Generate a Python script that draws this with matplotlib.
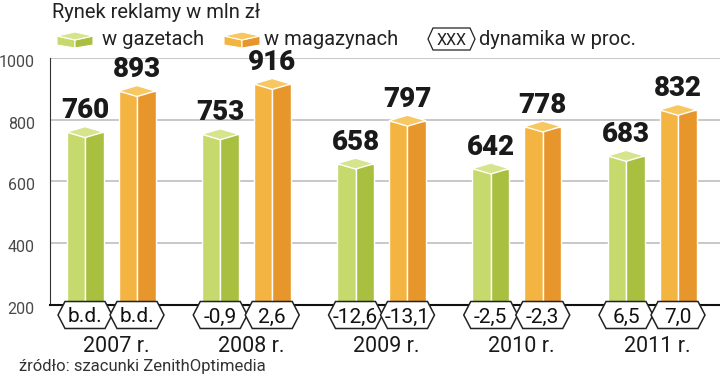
import matplotlib.pyplot as plt
from matplotlib.patches import Polygon
from matplotlib.transforms import ScaledTranslation
import numpy as np

years = ['2007 r.', '2008 r.', '2009 r.', '2010 r.', '2011 r.']
gazety = [760, 753, 658, 642, 683]          # mln zl
magazyny = [893, 916, 797, 778, 832]        # mln zl
dyn_gazety = ['b.d.', '-0,9', '-12,6', '-2,5', '6,5']
dyn_magazyny = ['b.d.', '2,6', '-13,1', '-2,3', '7,0']
yticks = [200, 400, 600, 800, 1000]

plt.rcParams['font.family'] = ['Roboto', 'DejaVu Sans']

W, H = 720, 376
fig = plt.figure(figsize=(W / 100, H / 100), dpi=100)
ax = fig.add_axes([50 / W, 1 - 305 / H, 670 / W, 247 / H])

px_x = 135.25       # pixels per group
py = 247 / 800      # pixels per value unit
ax.set_xlim((50 - 111) / px_x, (720 - 111) / px_x)
ax.set_ylim(200, 1000)

green = ('#c6d96c', '#a9bf3f', '#d7e48e')
orange = ('#f3b441', '#e7962b', '#f7c862')

bw = 37 / px_x
off = 26 / px_x
cap = 5.5 / py
x = np.arange(len(years))


def hexagon(xc, yc, hw, hh, hp):
    return [(xc - hw, yc), (xc - hw + hp, yc + hh), (xc + hw - hp, yc + hh),
            (xc + hw, yc), (xc + hw - hp, yc - hh), (xc - hw + hp, yc - hh)]


def draw_bars(xs, vals, dyn, colors):
    vals = np.array(vals)
    ax.bar(xs - bw / 4, vals - 200, bw / 2, bottom=200, color=colors[0],
           edgecolor='white', linewidth=1, zorder=3)
    ax.bar(xs + bw / 4, vals - 200, bw / 2, bottom=200, color=colors[1],
           edgecolor='white', linewidth=1, zorder=3)
    for xi, v, d in zip(xs, vals, dyn):
        top = [(xi - bw / 2, v), (xi, v + cap), (xi + bw / 2, v), (xi, v - cap)]
        ax.add_patch(Polygon(top, closed=True, facecolor=colors[2],
                             edgecolor='white', linewidth=1, zorder=4))
        ax.annotate(str(v), (xi, v + cap), xytext=(0, 6), textcoords='offset points',
                    ha='center', va='baseline', fontsize=20, fontweight='black',
                    color='#1a1a1a')
        # dynamics hexagon under the axis
        yc = 200 - 10 / py
        ax.add_patch(Polygon(hexagon(xi, yc, 27 / px_x, 13.5 / py, 7 / px_x),
                             closed=True, facecolor='white', edgecolor='#222222',
                             linewidth=1.1, zorder=5, clip_on=False))
        ax.text(xi, yc, d, ha='center', va='center_baseline', fontsize=15,
                color='#111111', zorder=6, clip_on=False)


draw_bars(x - off, gazety, dyn_gazety, green)
draw_bars(x + off, magazyny, dyn_magazyny, orange)

for xi, yr in zip(x, years):
    ax.text(xi + 5 / px_x, 200 - 41.5 / py, yr, ha='center', va='center',
            fontsize=15.5, color='#1a1a1a')

ax.set_yticks(yticks)
ax.set_xticks([])
ax.tick_params(axis='y', length=0, pad=11, labelsize=11.5, labelcolor='#4a4a4a')
for lbl in ax.get_yticklabels():
    lbl.set_transform(lbl.get_transform() + ScaledTranslation(0, -3 / 100, fig.dpi_scale_trans))
ax.yaxis.grid(True, color='#c4c4c4', linewidth=1.3)
ax.set_axisbelow(True)
for s in ['top', 'right']:
    ax.spines[s].set_visible(False)
ax.spines['left'].set_color('#333333')
ax.spines['left'].set_linewidth(0.8)
ax.spines['bottom'].set_color('#111111')
ax.spines['bottom'].set_linewidth(1.5)

# header, legend and source in pixel coordinates
ov = fig.add_axes([0, 0, 1, 1], zorder=10)
ov.set_xlim(0, W)
ov.set_ylim(H, 0)
ov.axis('off')

ov.text(52, 18, 'Rynek reklamy w mln zł', va='baseline', fontsize=14.5, color='#222222')


def cube(x0, colors):
    L, B, R, F = (x0, 36), (x0 + 18, 32), (x0 + 36, 36), (x0 + 18, 40)
    ov.add_patch(Polygon([L, F, (x0 + 18, 48), (x0, 45)], facecolor=colors[0],
                         edgecolor='white', linewidth=0.8))
    ov.add_patch(Polygon([F, R, (x0 + 36, 45), (x0 + 18, 48)], facecolor=colors[1],
                         edgecolor='white', linewidth=0.8))
    ov.add_patch(Polygon([L, B, R, F], facecolor=colors[2], edgecolor='white', linewidth=0.8))


cube(57, green)
ov.text(102, 45, 'w gazetach', va='baseline', fontsize=14.5, color='#222222')
cube(224, orange)
ov.text(264, 45, 'w magazynach', va='baseline', fontsize=14.5, color='#222222')
ov.add_patch(Polygon(hexagon(451.5, 39, 23.5, 11, 5), closed=True, facecolor='white',
                     edgecolor='#222222', linewidth=0.9))
ov.text(451.5, 39, 'XXX', ha='center', va='center_baseline', fontsize=11.5, color='#222222')
ov.text(479, 45, 'dynamika w proc.', va='baseline', fontsize=14.5, color='#222222')

ov.text(19, 371, 'źródło: szacunki ZenithOptimedia', va='baseline', fontsize=12,
        color='#333333')

fig.savefig('out.png', dpi=100)
